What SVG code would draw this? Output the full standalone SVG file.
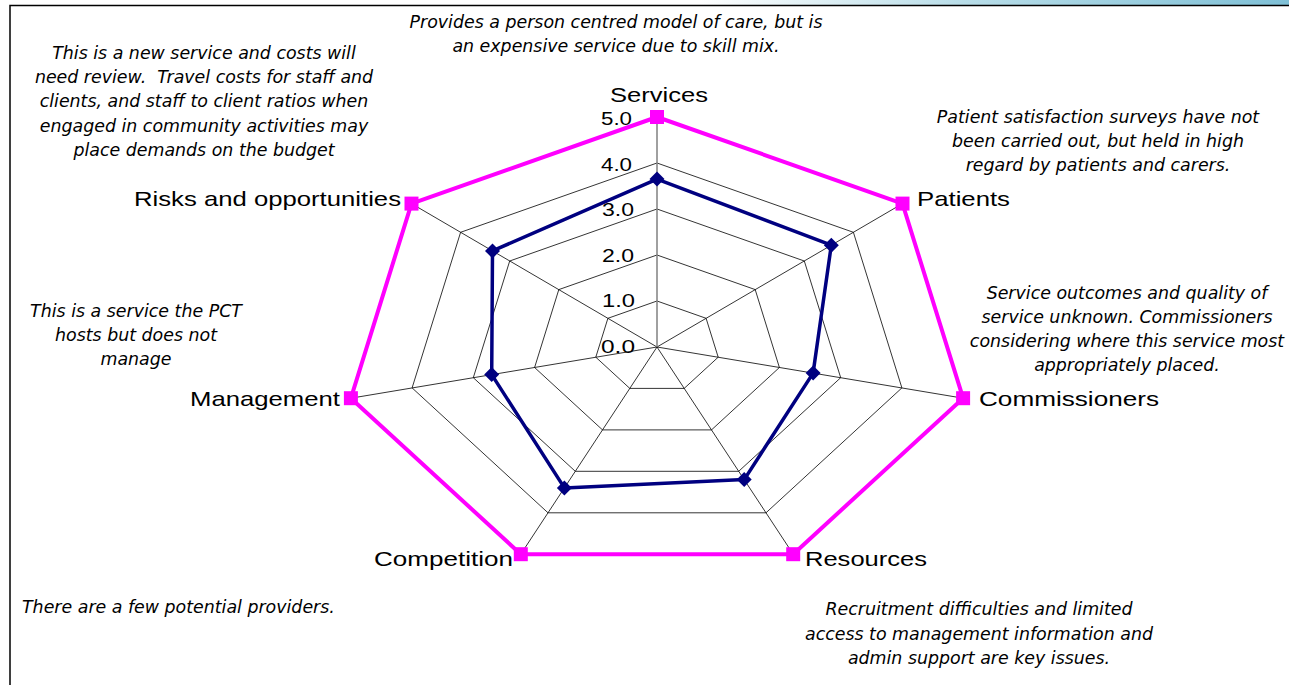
<svg xmlns="http://www.w3.org/2000/svg" width="1289" height="685" viewBox="0 0 1289 685">
<style>
.grid{fill:none;stroke:#000;stroke-width:0.8}
.spoke{stroke:#000;stroke-width:0.8}
.lbl{font-family:"Liberation Sans",Arial,sans-serif;font-size:21px;fill:#000}
.num{font-family:"Liberation Sans",Arial,sans-serif;font-size:17.5px;fill:#000}
.note{font-family:"DejaVu Sans","Liberation Sans",sans-serif;font-style:italic;font-size:17.4px;fill:#000;text-anchor:middle}
.max{fill:none;stroke:#ff00ff;stroke-width:4;stroke-linejoin:round}
.val{fill:none;stroke:#000080;stroke-width:3.5;stroke-linejoin:round}
</style>
<defs>
<linearGradient id="bar" x1="0" y1="0" x2="1" y2="0">
<stop offset="0" stop-color="#ffffff"/>
<stop offset="0.45" stop-color="#b8dde8"/>
<stop offset="1" stop-color="#7fc0d6"/>
</linearGradient>
<rect id="sq" x="-7" y="-7" width="14" height="14" fill="#ff00ff"/>
<path id="dm" d="M0,-7.5 L7.5,0 L0,7.5 L-7.5,0 Z" fill="#000080"/>
</defs>
<rect width="1289" height="685" fill="#fff"/>
<rect x="700" y="0" width="589" height="5" fill="url(#bar)"/>
<path d="M10,685 V5.5 H1289" fill="none" stroke="#000" stroke-width="1.5"/>

<g id="grid">
<polygon class="grid" points="657,301 706.1,318.3 718.2,357.2 684.2,388.4 629.8,388.4 595.8,357.2 607.9,318.3"/>
<polygon class="grid" points="657,255 755.2,289.6 779.4,367.5 711.5,429.9 602.5,429.9 534.6,367.5 558.8,289.6"/>
<polygon class="grid" points="657,209 804.3,261 840.7,377.7 738.7,471.3 575.3,471.3 473.3,377.7 509.7,261"/>
<polygon class="grid" points="657,163 853.4,232.3 901.9,387.9 766,512.8 548,512.8 412.1,387.9 460.6,232.3"/>
<line class="spoke" x1="657" y1="347" x2="902.5" y2="203.6"/>
<line class="spoke" x1="657" y1="347" x2="963.1" y2="398.2"/>
<line class="spoke" x1="657" y1="347" x2="793.2" y2="554.2"/>
<line class="spoke" x1="657" y1="347" x2="520.8" y2="554.2"/>
<line class="spoke" x1="657" y1="347" x2="350.9" y2="398.2"/>
<line class="spoke" x1="657" y1="347" x2="411.5" y2="203.6"/>
<line x1="657" y1="347" x2="657" y2="117" stroke="#808080" stroke-width="1.5"/>
</g>

<g id="scale" class="num">
<text x="601" y="125" textLength="31" lengthAdjust="spacingAndGlyphs">5.0</text>
<text x="601" y="171" textLength="31" lengthAdjust="spacingAndGlyphs">4.0</text>
<text x="602" y="216" textLength="32" lengthAdjust="spacingAndGlyphs">3.0</text>
<text x="602" y="262" textLength="32" lengthAdjust="spacingAndGlyphs">2.0</text>
<text x="602" y="307" textLength="33" lengthAdjust="spacingAndGlyphs">1.0</text>
<text x="601" y="353" textLength="34" lengthAdjust="spacingAndGlyphs">0.0</text>
</g>

<g id="series-max">
<polygon class="max" points="657,117 902.5,203.6 963.1,398.2 793.2,554.2 520.8,554.2 350.9,398.2 411.5,203.6"/>
<use href="#sq" x="657" y="117"/>
<use href="#sq" x="902.5" y="203.6"/>
<use href="#sq" x="963.1" y="398.2"/>
<use href="#sq" x="793.2" y="554.2"/>
<use href="#sq" x="520.8" y="554.2"/>
<use href="#sq" x="350.9" y="398.2"/>
<use href="#sq" x="411.5" y="203.6"/>
</g>

<g id="series-score">
<polygon class="val" points="657,179.1 831.3,245.2 813.1,373.1 744.2,479.6 564.4,487.9 491.7,374.6 492.5,250.9"/>
<use href="#dm" x="657" y="179.1"/>
<use href="#dm" x="831.3" y="245.2"/>
<use href="#dm" x="813.1" y="373.1"/>
<use href="#dm" x="744.2" y="479.6"/>
<use href="#dm" x="564.4" y="487.9"/>
<use href="#dm" x="491.7" y="374.6"/>
<use href="#dm" x="492.5" y="250.9"/>
</g>

<g id="node-services"><text class="lbl" x="610" y="102" textLength="98" lengthAdjust="spacingAndGlyphs">Services</text></g>
<g id="node-patients"><text class="lbl" x="917" y="206" textLength="93" lengthAdjust="spacingAndGlyphs">Patients</text></g>
<g id="node-commissioners"><text class="lbl" x="979" y="406" textLength="180" lengthAdjust="spacingAndGlyphs">Commissioners</text></g>
<g id="node-resources"><text class="lbl" x="805" y="566" textLength="122" lengthAdjust="spacingAndGlyphs">Resources</text></g>
<g id="node-competition"><text class="lbl" x="374" y="566" textLength="139" lengthAdjust="spacingAndGlyphs">Competition</text></g>
<g id="node-management"><text class="lbl" x="190" y="406" textLength="150" lengthAdjust="spacingAndGlyphs">Management</text></g>
<g id="node-risks"><text class="lbl" x="134" y="206" textLength="267" lengthAdjust="spacingAndGlyphs">Risks and opportunities</text></g>

<g id="note-services" class="note">
<text x="616" y="28">Provides a person centred model of care, but is</text>
<text x="616" y="52">an expensive service due to skill mix.</text>
</g>
<g id="note-risks" class="note">
<text x="204" y="59">This is a new service and costs will</text>
<text x="204" y="83" xml:space="preserve">need review.  Travel costs for staff and</text>
<text x="204" y="107">clients, and staff to client ratios when</text>
<text x="204" y="132">engaged in community activities may</text>
<text x="204" y="156">place demands on the budget</text>
</g>
<g id="note-patients" class="note">
<text x="1098" y="123">Patient satisfaction surveys have not</text>
<text x="1098" y="147">been carried out, but held in high</text>
<text x="1098" y="171">regard by patients and carers.</text>
</g>
<g id="note-commissioners" class="note">
<text x="1127" y="299">Service outcomes and quality of</text>
<text x="1127" y="323">service unknown. Commissioners</text>
<text x="1127" y="347">considering where this service most</text>
<text x="1127" y="371">appropriately placed.</text>
</g>
<g id="note-management" class="note">
<text x="136" y="317">This is a service the PCT</text>
<text x="136" y="341">hosts but does not</text>
<text x="136" y="365">manage</text>
</g>
<g id="note-competition" class="note">
<text x="22" y="613" text-anchor="start">There are a few potential providers.</text>
</g>
<g id="note-resources" class="note">
<text x="979" y="615">Recruitment difficulties and limited</text>
<text x="979" y="640">access to management information and</text>
<text x="979" y="664">admin support are key issues.</text>
</g>
</svg>
